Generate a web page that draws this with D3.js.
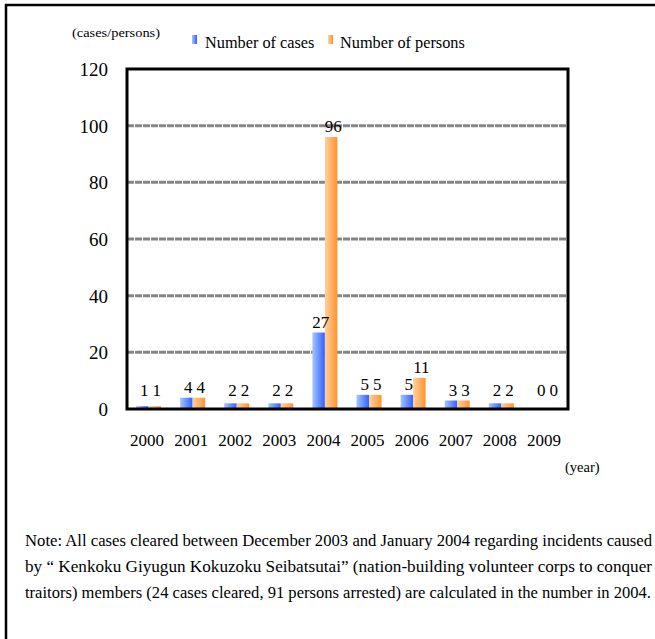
<!DOCTYPE html>
<html>
<head>
<meta charset="utf-8">
<script src="https://cdn.jsdelivr.net/npm/d3@7"></script>
<style>
  html, body { margin: 0; padding: 0; background: #fff; }
  svg { display: block; }
  svg text { font-family: 'Liberation Serif', 'Times New Roman', Tinos, 'DejaVu Serif', serif !important; fill: #000; }
</style>
</head>
<body>
<script>
const years = ["2000","2001","2002","2003","2004","2005","2006","2007","2008","2009"];
const cases = [1, 4, 2, 2, 27, 5, 5, 3, 2, 0];
const persons = [1, 4, 2, 2, 96, 5, 11, 3, 2, 0];
const seriesNames = ["Number of cases", "Number of persons"];
const yTicks = [0, 20, 40, 60, 80, 100, 120];
const yUnit = "(cases/persons)";
const xUnit = "(year)";
const noteLines = [
  "Note: All cases cleared between December 2003 and January 2004 regarding incidents caused",
  "by \u201C Kenkoku Giyugun Kokuzoku Seibatsutai\u201D (nation-building volunteer corps to conquer",
  "traitors) members (24 cases cleared, 91 persons arrested) are calculated in the number in 2004."
];

(function () {
const W = 655, H = 639;
const FONT = "'Liberation Serif', 'Times New Roman', Tinos, 'DejaVu Serif', serif";
const svg = d3.select("body").append("svg").attr("width", W).attr("height", H)
  .attr("font-family", FONT);

const defs = svg.append("defs");
function grad(id, c1, c2) {
  const g = defs.append("linearGradient").attr("id", id)
    .attr("x1", "0%").attr("x2", "100%").attr("y1", "0%").attr("y2", "0%");
  g.append("stop").attr("offset", "0%").attr("stop-color", c1);
  g.append("stop").attr("offset", "100%").attr("stop-color", c2);
}
grad("gBlue", "#a3c6ff", "#3360ff");
grad("gOrange", "#ffd0a0", "#ff942c");
const fills = ["url(#gBlue)", "url(#gOrange)"];

// outer frame (right/bottom edges fall outside the picture)
svg.append("path").attr("d", "M6,700 L6,5 L700,5")
  .attr("fill", "none").attr("stroke", "#000").attr("stroke-width", 2.5);

const pL = 127, pR = 568, pT = 69, pB = 409;
const x0 = d3.scaleBand().domain(years).range([pL, pR]).padding(0);
const x1 = d3.scaleBand().domain([0, 1]).range([9, 34]).padding(0);
const y = d3.scaleLinear().domain([0, 120]).range([pB, pT]);

// gridlines
svg.append("g").selectAll("line").data(yTicks.filter(d => d > 0 && d < 120)).join("line")
  .attr("x1", pL).attr("x2", pR)
  .attr("y1", d => y(d)).attr("y2", d => y(d))
  .attr("stroke", "#858585").attr("stroke-width", 3)
  .attr("stroke-dasharray", "7,1");

// bars
const data = years.map((yr, i) => ({ yr, vals: [cases[i], persons[i]] }));
const gBars = svg.append("g");
data.forEach(d => {
  d.vals.forEach((v, k) => {
    if (v > 0) {
      gBars.append("rect")
        .attr("x", x0(d.yr) + x1(k))
        .attr("width", x1.bandwidth())
        .attr("y", y(v))
        .attr("height", y(0) - y(v))
        .attr("fill", fills[k]);
    }
  });
});

// value labels
const gLab = svg.append("g");
data.forEach(d => {
  d.vals.forEach((v, k) => {
    gLab.append("text")
      .attr("x", x0(d.yr) + x1(k) + x1.bandwidth() / 2 + 2)
      .attr("y", Math.min(y(v) - 5, 396))
      .attr("text-anchor", "middle")
      .attr("font-size", 17)
      .text(v);
  });
});

// plot border
svg.append("rect").attr("x", pL).attr("y", pT)
  .attr("width", pR - pL).attr("height", pB - pT)
  .attr("fill", "none").attr("stroke", "#000").attr("stroke-width", 3);

// y axis
const yAxis = d3.axisLeft(y).tickValues(yTicks).tickSize(0).tickPadding(0).tickFormat(d3.format("d"));
const gy = svg.append("g").attr("transform", `translate(${pL - 19},0)`).call(yAxis)
  .attr("font-family", FONT);
gy.select(".domain").remove();
gy.selectAll("text").attr("font-size", 19).attr("fill", "#000").attr("dy", "0.35em");

// x axis
const xAxis = d3.axisBottom(x0).tickSize(0).tickPadding(0);
const gx = svg.append("g").attr("transform", `translate(-2,${pB + 23})`).call(xAxis)
  .attr("font-family", FONT);
gx.select(".domain").remove();
gx.selectAll("text").attr("font-size", 17).attr("fill", "#000").attr("dy", "0.8em");

// units
svg.append("text").attr("x", 72).attr("y", 37).attr("font-size", 13.5)
  .attr("textLength", 88).attr("lengthAdjust", "spacingAndGlyphs").text(yUnit);
svg.append("text").attr("x", 565).attr("y", 472).attr("font-size", 14.5).text(xUnit);

// legend
const legX = [192, 328], legTX = [205, 340];
seriesNames.forEach((n, k) => {
  svg.append("rect").attr("x", legX[k]).attr("y", 35).attr("width", 5).attr("height", 9).attr("fill", fills[k]);
  svg.append("text").attr("x", legTX[k]).attr("y", 48).attr("font-size", 16.3).text(n);
});

// note
const noteW = [627, 627, 626];
noteLines.forEach((t, i) => {
  svg.append("text").attr("x", 25).attr("y", 546 + i * 26)
    .attr("font-size", 16)
    .attr("textLength", noteW[i]).attr("lengthAdjust", "spacingAndGlyphs")
    .text(t);
});
})();
</script>
</body>
</html>
